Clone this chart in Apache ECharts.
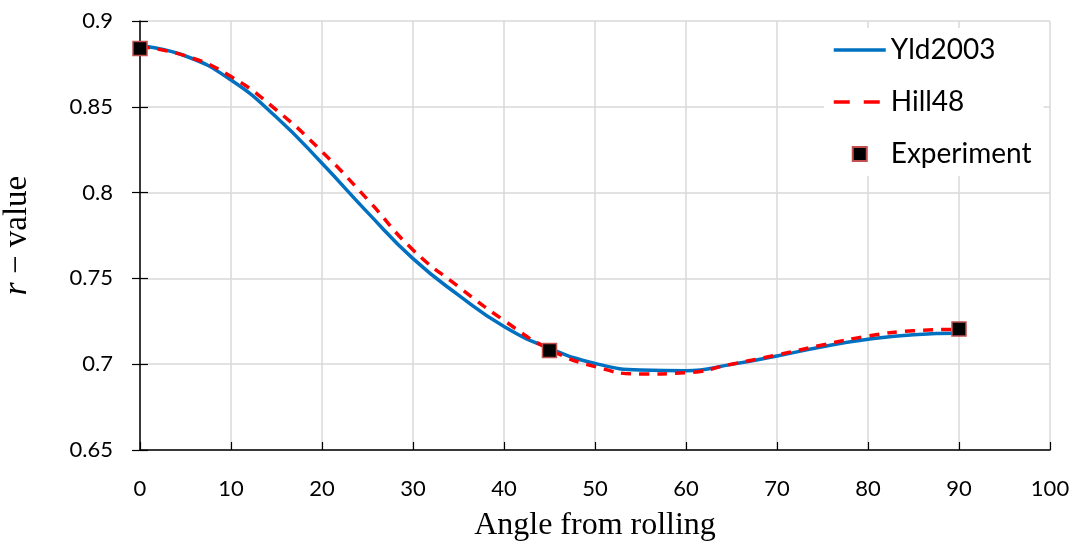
<!DOCTYPE html>
<html>
<head>
<meta charset="utf-8">
<script src="https://cdn.jsdelivr.net/npm/echarts@6/dist/echarts.min.js"></script>
<style>html,body{margin:0;padding:0;background:#fff}#c{width:1078px;height:547px}</style>
</head>
<body>
<div id="c"></div>
<script>
const angles = [0,5,10,15,20,25,30,35,40,45,50,55,60,65,70,75,80,85,90];
const yld2003 = [0.8856,0.8796,0.8656,0.8439,0.8171,0.7885,0.7615,0.7403,0.722,0.7093,0.7005,0.6966,0.6962,0.6999,0.7048,0.7102,0.7145,0.7172,0.718];
const hill48 = [0.885,0.8797,0.8676,0.8481,0.8239,0.796,0.7666,0.7452,0.7255,0.7087,0.6986,0.6943,0.695,0.700,0.7054,0.7112,0.7164,0.7195,0.7203];
const expAngles = [0,45,90];
const expValues = [0.884,0.708,0.7205];

const pair = (xs, ys) => xs.map((x,i)=>[x, ys[i]]);
const labelFont = 'Lato, "Noto Sans", sans-serif';
const serif = '"Liberation Serif","DejaVu Serif",serif';
const hide = {color:'rgba(0,0,0,0)',borderColor:'rgba(0,0,0,0)',borderWidth:0};
const chart = echarts.init(document.getElementById('c'));
chart.setOption({
  animation:false,
  backgroundColor:'#fff',
  grid:{left:140,right:28,top:21,bottom:97,containLabel:false,outerBoundsMode:'none'},
  legend:{
    orient:'vertical', left:824, top:28,
    backgroundColor:'#fff', padding:[8,12,8,8],
    itemWidth:52, itemHeight:14, itemGap:24,
    textStyle:{fontFamily:labelFont,fontSize:28,color:'#000',padding:[0,0,0,0]},
    data:[
      {name:'Yld2003',itemStyle:hide,lineStyle:{width:3.5,color:'#0070c0'}},
      {name:'Hill48',itemStyle:hide,lineStyle:{width:3.5,color:'#ff0000',type:[16,14]}},
      {name:'Experiment',icon:'path://M0,0h10v10h-10z'}
    ]
  },
  xAxis:{
    type:'value',min:0,max:100,interval:10,
    name:'Angle from rolling',nameLocation:'middle',nameGap:60,
    nameTextStyle:{fontFamily:serif,fontSize:32,color:'#000'},
    axisLine:{lineStyle:{color:'#000',width:1.5}},
    axisTick:{inside:true,length:8,lineStyle:{color:'#000',width:1.2}},
    axisLabel:{fontFamily:labelFont,fontSize:22,color:'#000',margin:28},
    splitLine:{show:true,lineStyle:{color:'#d9d9d9',width:1.5}}
  },
  yAxis:[{
    type:'value',min:0.65,max:0.9,interval:0.05,
    name:'{i|r} − value',nameLocation:'middle',nameGap:106,
    nameTextStyle:{fontFamily:serif,fontSize:33,color:'#000',
      rich:{i:{fontFamily:serif,fontStyle:'italic',fontSize:33,color:'#000'}}},
    axisLine:{show:true,lineStyle:{color:'#000',width:1.5}},
    axisTick:{show:true,length:8,lineStyle:{color:'#000',width:1.2}},
    axisLabel:{fontFamily:labelFont,fontSize:22,color:'#000',margin:27,
      formatter:v=>String(parseFloat(v.toFixed(2)))},
    splitLine:{show:true,lineStyle:{color:'#d9d9d9',width:1.5}}
  },{
    type:'value',min:0.65,max:0.9,interval:0.05,position:'left',
    axisLine:{show:false},
    axisTick:{show:true,inside:true,length:8,lineStyle:{color:'#000',width:1.2}},
    axisLabel:{show:false},splitLine:{show:false}
  }],
  series:[
    {name:'Yld2003',type:'line',data:pair(angles,yld2003),smooth:0.5,symbol:'none',
      lineStyle:{color:'#0070c0',width:3.5},itemStyle:{color:'#0070c0'},z:2},
    {name:'Hill48',type:'line',data:pair(angles,hill48),smooth:0.5,symbol:'none',
      lineStyle:{color:'#ff0000',width:3.5,type:[10,8]},itemStyle:{color:'#ff0000'},z:3},
    {name:'Experiment',type:'scatter',data:pair(expAngles,expValues),symbol:'rect',symbolSize:14,
      itemStyle:{color:'#000',borderColor:'#c0504d',borderWidth:1.5,opacity:1},z:5}
  ]
});
</script>
</body>
</html>
